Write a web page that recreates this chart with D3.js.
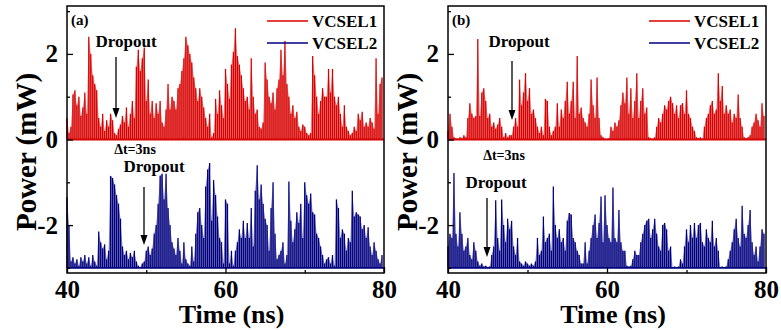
<!DOCTYPE html>
<html>
<head>
<meta charset="utf-8">
<script src="https://cdn.jsdelivr.net/npm/d3@7"></script>
<style>
  body { margin: 0; background: #fff; }
  svg { display: block; }
  text { font-family: "Liberation Serif", "Times New Roman", serif; font-weight: bold; }
</style>
</head>
<body>
<svg id="chart" width="781" height="330"></svg>
<script>
// sampling grid of the traces (ns)
const times = d3.range(160).map(i => 40 + i * 0.25);

// panel (a): VCSEL1 (mW) and VCSEL2 (mW, shifted by -3)
const vcsel1A = [
  0.5, 0.15, 0.3, 1.05,  1.15, 0.8, 1.0, 0.55,  0.75, 1.1, 0.6, 2.4,  2.0, 1.5, 1.3, 1.15,
  0.5, 0.3, 0.6, 0.2,  0.45, 0.3, 0.6, 0.45,  0.15, 0.1, 0.25, 0.35,  0.55, 0.4, 0.75, 0.3,
  0.6, 0.9, 0.5, 1.7,  2.1, 1.6, 1.9, 2.15,  0.9, 1.4, 0.6, 0.9,  0.5, 0.85, 0.6, 0.9,
  0.4, 0.3, 0.7, 1.3,  0.7, 1.0, 0.9, 0.7,  1.2, 1.3, 1.6, 1.9,  2.4, 2.2, 2.0, 1.8,
  1.45, 1.2, 0.9, 1.2,  1.0, 0.75, 0.5, 0.3,  0.6, 0.05, 0.15, 0.95,  0.6, 1.15, 0.8, 0.5,
  1.65, 1.3, 0.95, 1.75,  2.05, 2.6, 1.95, 1.75,  1.5, 1.2, 0.9, 1.0,  0.7, 1.9, 1.0, 0.6,
  0.7, 0.3, 0.25, 0.4,  1.8, 1.4, 1.0, 0.85,  1.1, 0.7, 1.2, 1.4,  2.1, 1.5, 2.3, 1.3,
  1.0, 0.6, 0.8, 0.5,  0.65, 0.3, 0.2, 0.35,  0.3, 0.15, 0.1, 0.15,  1.95, 1.5, 1.0, 0.6,
  0.9, 1.2, 1.0, 1.0,  1.65, 1.1, 1.65, 1.0,  0.8, 1.0, 0.6, 0.3,  0.8, 0.3, 0.2, 0.1,
  0.15, 0.3, 0.2, 0.6,  0.45, 0.65, 0.3, 0.4,  0.3, 0.5, 0.4, 0.25,  1.9, 0.6, 1.3, 1.45
];
const vcsel2A = [
  -1.35, -2.0, -2.85, -2.75,  -2.9, -2.8, -2.95, -2.75,  -2.85, -2.7, -2.9, -2.75,  -2.95, -2.7, -2.85, -2.95,
  -2.15, -2.4, -2.55, -2.45,  -2.8, -2.6, -0.85, -0.9,  -1.05, -1.3, -1.5, -1.85,  -2.5, -2.7, -2.6, -2.8,
  -2.65, -2.75, -2.6, -2.85,  -2.95, -2.98, -2.9, -2.85,  -2.6, -2.5, -2.7, -2.55,  -2.2, -2.0, -1.5, -0.85,
  -0.8, -1.4, -0.8, -1.6,  -2.0, -2.4, -2.55, -2.7,  -2.3, -2.6, -2.9, -2.4,  -2.8, -2.9, -2.95, -2.5,
  -2.85, -2.2, -1.7, -1.6,  -2.0, -2.3, -1.1, -0.7,  -0.55, -1.9, -0.95, -1.3,  -1.8, -2.3, -2.4, -2.9,
  -1.4, -1.5, -2.9, -2.6,  -2.95, -2.6, -2.4, -2.1,  -2.3, -1.9, -2.3, -1.95,  -2.3, -1.6, -2.5, -1.2,
  -0.6, -1.4, -1.05, -1.5,  -1.85, -2.0, -2.6, -1.6,  -1.0, -2.2, -2.8, -2.7,  -2.6, -2.4, -2.9, -2.7,
  -0.98, -1.9, -2.4, -2.1,  -1.7, -1.95, -1.5, -2.3,  -1.0, -1.3, -1.5, -1.26,  -1.7, -1.75, -2.2, -2.3,
  -2.5, -2.7, -2.9, -2.8,  -2.75, -2.9, -2.7, -2.95,  -1.4, -1.6, -2.3, -2.1,  -2.2, -2.6, -2.3, -2.4,
  -1.2, -1.8, -1.7, -1.75,  -1.8, -2.1, -2.0, -2.3,  -2.05, -2.5, -2.7, -2.4,  -2.6, -2.8, -2.9, -2.7
];

// panel (b)
const vcsel1B = [
  0.2, 0.6, 0.3, 0.05,  0.03, 0.02, 0.05, 0.03,  0.1, 0.05, 0.5, 0.85,  0.6, 0.5, 0.55, 2.35,
  0.55, 1.1, 1.2, 0.9,  0.5, 0.6, 0.3, 0.4,  0.25, 0.35, 0.5, 0.3,  0.05, 0.15, 0.05, 0.1,
  0.1, 0.3, 0.5, 0.3,  1.4, 0.8, 1.1, 1.55,  0.9, 1.2, 0.6, 0.7,  0.5, 0.3, 0.15, 0.3,
  0.1, 0.95, 0.9, 0.3,  0.1, 0.2, 0.3, 0.85,  0.3, 0.7, 0.5, 0.9,  1.35, 0.6, 0.9, 1.35,
  0.5, 1.95, 0.6, 0.75,  0.5, 0.4, 0.3, 0.6,  1.4, 0.8, 0.5, 1.45,  0.5, 0.1, 0.05, 0.02,
  0.02, 0.03, 0.3, 0.2,  0.4, 0.3, 0.45, 0.8,  1.1, 0.85, 1.45, 0.6,  1.2, 0.5, 0.9, 1.55,
  0.5, 0.9, 1.2, 0.6,  0.75, 0.05, 0.03, 0.02,  0.05, 0.3, 0.5, 0.4,  0.6, 0.8, 0.7, 0.9,
  1.0, 0.85, 0.6, 0.8,  0.5, 0.8, 0.85, 0.6,  1.15, 0.6, 0.5, 0.3,  0.2, 0.05, 0.03, 0.05,
  0.02, 0.3, 0.5, 0.6,  0.8, 0.9, 0.6, 0.7,  1.55, 0.9, 1.25, 0.6,  0.8, 0.6, 0.7, 0.4,
  0.6, 0.5, 1.05, 0.5,  0.3, 0.05, 0.03, 0.05,  0.1, 0.3, 0.4, 0.6,  0.45, 0.3, 0.85, 0.55
];
const vcsel2B = [
  -2.5, -2.2, -2.3, -0.78,  -2.2, -2.5, -1.7, -2.2,  -2.6, -2.5, -2.3, -2.7,  -2.8, -2.4, -2.6, -2.85,
  -2.95, -2.9, -2.97, -2.95,  -2.98, -2.97, -2.7, -2.5,  -1.42, -2.3, -2.6, -1.4,  -2.0, -2.4, -1.85, -2.1,
  -1.9, -2.5, -2.7, -2.3,  -2.85, -2.9, -2.95, -2.85,  -2.9, -2.95, -2.9, -2.95,  -2.85, -2.3, -2.7, -2.6,
  -1.8, -2.4, -2.3, -2.2,  -2.6, -1.1, -2.0, -2.3,  -2.1, -2.4, -2.3, -2.6,  -1.9, -1.72, -1.75, -2.3,
  -2.4, -2.6, -2.7, -2.9,  -2.9, -2.4, -2.9, -2.6,  -2.3, -2.0, -1.75, -2.3,  -1.95, -1.33, -2.4, -1.3,
  -2.0, -2.3, -2.4, -1.12,  -2.3, -2.4, -1.65, -2.4,  -2.6, -2.6, -2.95, -2.97,  -2.95, -2.8, -2.6, -2.7,
  -2.7, -2.4, -2.2, -2.0,  -1.9, -1.85, -2.3, -2.1,  -1.85, -2.2, -2.5, -2.6,  -2.0, -1.95, -2.1, -2.6,
  -2.5, -2.98, -2.97, -2.98,  -2.97, -2.8, -2.9, -2.5,  -2.1, -2.4, -2.0, -2.3,  -1.95, -2.3, -2.0, -1.95,
  -2.4, -2.5, -2.1, -2.3,  -2.4, -1.9, -2.5, -2.3,  -2.6, -2.98, -2.97, -2.98,  -2.97, -2.8, -2.6, -2.4,
  -2.1, -1.85, -2.3, -2.5,  -1.55, -2.2, -2.3, -2.0,  -1.65, -2.4, -2.7, -2.5,  -2.85, -2.5, -2.1, -2.2
];

const baseLevels = [0, -3];
const seriesNames = ["VCSEL1", "VCSEL2"];
const xTicks = [40, 60, 80];
const xMinorTicks = [50, 70];
const yTicks = [-2, 0, 2];
const yMinorTicks = [-3, -1, 1, 3];

const colors = ["#d80000", "#00007f"];
const plotTop = 6, plotBottom = 273;

const panels = [
  { label: "(a)", left: 67, right: 384, series: [vcsel1A, vcsel2A],
    drop1: [126, 47, 116, 57, 118], dt: [135, 154], drop2: [154, 172, 144, 187, 245] },
  { label: "(b)", left: 448, right: 766, series: [vcsel1B, vcsel2B],
    drop1: [519, 47, 512, 61, 120], dt: [504, 160], drop2: [496, 188, 487, 198, 257] }
];

const svg = d3.select("#chart");
const y = d3.scaleLinear().domain([-3.12, 3.12]).range([plotBottom, plotTop]);

function arrow(g, xPos, y1, y2) {
  g.append("line")
    .attr("x1", xPos).attr("x2", xPos)
    .attr("y1", y1).attr("y2", y2 - 8)
    .attr("stroke", "#000").attr("stroke-width", 1.3);
  g.append("path")
    .attr("d", `M${xPos - 3.5},${y2 - 10} L${xPos + 3.5},${y2 - 10} L${xPos},${y2} Z`)
    .attr("fill", "#000");
}

panels.forEach(p => {
  const x = d3.scaleLinear().domain([40, 80]).range([p.left, p.right]);
  const g = svg.append("g");

  // traces: light envelope plus a needle at every sample
  p.series.forEach((vals, k) => {
    const base = baseLevels[k];
    const area = d3.area()
      .x((d, i) => x(times[i]))
      .y0(y(base))
      .y1(d => y(d));
    g.append("path")
      .datum(vals)
      .attr("d", area)
      .attr("fill", colors[k])
      .attr("fill-opacity", 0.5)
      .attr("stroke", "none");
    g.append("g")
      .selectAll("line")
      .data(vals)
      .join("line")
        .attr("x1", (d, i) => x(times[i]))
        .attr("x2", (d, i) => x(times[i]))
        .attr("y1", y(base))
        .attr("y2", d => y(d))
        .attr("stroke", colors[k])
        .attr("stroke-width", 1.3);
    g.append("line")
      .attr("x1", p.left).attr("x2", p.right)
      .attr("y1", y(base)).attr("y2", y(base))
      .attr("stroke", colors[k]).attr("stroke-width", 1.8);
  });

  // frame
  g.append("rect")
    .attr("x", p.left).attr("y", plotTop)
    .attr("width", p.right - p.left).attr("height", plotBottom - plotTop)
    .attr("fill", "none").attr("stroke", "#000").attr("stroke-width", 1.5);

  // x axis
  g.append("g")
    .attr("transform", `translate(0,${plotBottom})`)
    .call(d3.axisBottom(x).tickValues(xTicks).tickSize(-6).tickPadding(7).tickFormat(d => String(d)))
    .call(a => a.select(".domain").remove())
    .call(a => a.selectAll(".tick line").attr("stroke-width", 1.3))
    .call(a => a.selectAll(".tick text")
        .attr("font-size", 25).attr("fill", "#000")
        .attr("font-family", "Liberation Serif").attr("font-weight", "bold"));
  g.append("g")
    .attr("transform", `translate(0,${plotBottom})`)
    .call(d3.axisBottom(x).tickValues(xMinorTicks).tickSize(-3).tickFormat(""))
    .call(a => a.select(".domain").remove())
    .call(a => a.selectAll(".tick line").attr("stroke-width", 1.3));

  // y axis
  g.append("g")
    .attr("transform", `translate(${p.left},0)`)
    .call(d3.axisLeft(y).tickValues(yTicks).tickSize(-6).tickPadding(9).tickFormat(d => String(d)))
    .call(a => a.select(".domain").remove())
    .call(a => a.selectAll(".tick line").attr("stroke-width", 1.3))
    .call(a => a.selectAll(".tick text")
        .attr("font-size", 25).attr("fill", "#000")
        .attr("font-family", "Liberation Serif").attr("font-weight", "bold"));
  g.append("g")
    .attr("transform", `translate(${p.left},0)`)
    .call(d3.axisLeft(y).tickValues(yMinorTicks).tickSize(-3).tickFormat(""))
    .call(a => a.select(".domain").remove())
    .call(a => a.selectAll(".tick line").attr("stroke-width", 1.3));

  // axis titles
  g.append("text")
    .attr("x", (p.left + p.right) / 2 + 6).attr("y", 323)
    .attr("text-anchor", "middle").attr("font-size", 26)
    .text("Time (ns)");
  g.append("text")
    .attr("transform", `translate(${p.left - 31},152) rotate(-90)`)
    .attr("text-anchor", "middle").attr("font-size", 29)
    .text("Power (mW)");

  // panel label
  g.append("text")
    .attr("x", p.left + 4).attr("y", 25)
    .attr("font-size", 15)
    .text(p.label);

  // legend
  const lx = p.right - 117;
  seriesNames.forEach((name, k) => {
    const ly = 21 + k * 22;
    g.append("line")
      .attr("x1", lx).attr("x2", lx + 41)
      .attr("y1", ly).attr("y2", ly)
      .attr("stroke", colors[k]).attr("stroke-width", 1.5);
    g.append("text")
      .attr("x", lx + 45).attr("y", ly + 6)
      .attr("font-size", 17)
      .text(name);
  });

  // annotations
  g.append("text")
    .attr("x", p.drop1[0]).attr("y", p.drop1[1])
    .attr("text-anchor", "middle").attr("font-size", 17)
    .text("Dropout");
  arrow(g, p.drop1[2], p.drop1[3], p.drop1[4]);
  g.append("text")
    .attr("x", p.dt[0]).attr("y", p.dt[1])
    .attr("text-anchor", "middle").attr("font-size", 14)
    .text("Δt=3ns");
  g.append("text")
    .attr("x", p.drop2[0]).attr("y", p.drop2[1])
    .attr("text-anchor", "middle").attr("font-size", 17)
    .text("Dropout");
  arrow(g, p.drop2[2], p.drop2[3], p.drop2[4]);
});
</script>
</body>
</html>
